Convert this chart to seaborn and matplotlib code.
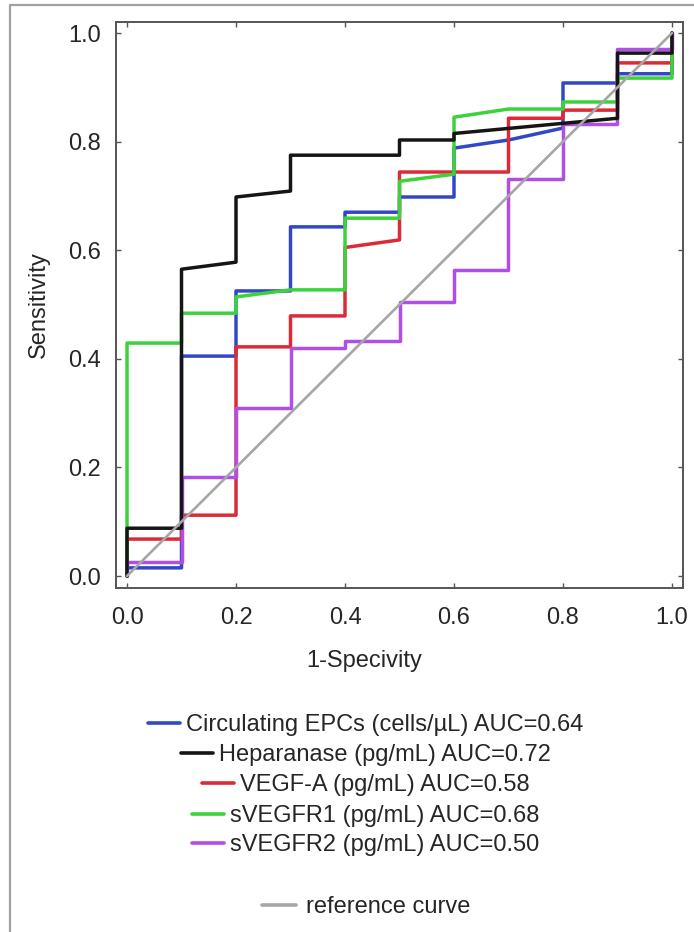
import matplotlib
matplotlib.use("Agg")
import matplotlib.pyplot as plt
from matplotlib.lines import Line2D
import seaborn as sns

# ROC vertices (1-specificity, sensitivity)
epc_x = [0, 0, 0.1, 0.1, 0.2, 0.2, 0.3, 0.3, 0.4, 0.4, 0.5, 0.5, 0.6, 0.6, 0.7, 0.8, 0.8, 0.9, 0.9, 1.0, 1.0]
epc_y = [0, 0.015, 0.015, 0.405, 0.405, 0.525, 0.525, 0.643, 0.643, 0.670, 0.670, 0.698, 0.698, 0.788, 0.803,
         0.825, 0.908, 0.908, 0.925, 0.925, 1.0]

hep_x = [0, 0, 0.1, 0.1, 0.2, 0.2, 0.3, 0.3, 0.5, 0.5, 0.6, 0.6, 0.9, 0.9, 1.0, 1.0]
hep_y = [0, 0.088, 0.088, 0.565, 0.578, 0.698, 0.709, 0.775, 0.775, 0.803, 0.803, 0.815, 0.843, 0.963, 0.963, 1.0]

vegfa_x = [0, 0, 0.1, 0.1, 0.2, 0.2, 0.3, 0.3, 0.4, 0.4, 0.5, 0.5, 0.7, 0.7, 0.8, 0.8, 0.9, 0.9, 1.0, 1.0]
vegfa_y = [0, 0.068, 0.068, 0.112, 0.112, 0.422, 0.422, 0.479, 0.479, 0.605, 0.619, 0.744, 0.744, 0.843, 0.843,
           0.858, 0.858, 0.945, 0.945, 1.0]

r1_x = [0, 0, 0.1, 0.1, 0.2, 0.2, 0.3, 0.4, 0.4, 0.5, 0.5, 0.6, 0.6, 0.7, 0.8, 0.8, 0.9, 0.9, 1.0, 1.0]
r1_y = [0, 0.429, 0.429, 0.484, 0.484, 0.514, 0.527, 0.527, 0.659, 0.659, 0.727, 0.740, 0.845, 0.860, 0.860,
        0.873, 0.873, 0.917, 0.917, 1.0]

r2_x = [0, 0, 0.1, 0.1, 0.2, 0.2, 0.3, 0.3, 0.4, 0.4, 0.5, 0.5, 0.6, 0.6, 0.7, 0.7, 0.8, 0.8, 0.9, 0.9, 1.0, 1.0]
r2_y = [0, 0.026, 0.026, 0.182, 0.182, 0.309, 0.309, 0.420, 0.420, 0.433, 0.433, 0.505, 0.505, 0.563, 0.563,
        0.731, 0.731, 0.832, 0.832, 0.970, 0.970, 1.0]

ref_x = [0, 1]
ref_y = [0, 1]

labels = [
    "Circulating EPCs (cells/\u00b5L) AUC=0.64",
    "Heparanase (pg/mL) AUC=0.72",
    "VEGF-A (pg/mL) AUC=0.58",
    "sVEGFR1 (pg/mL) AUC=0.68",
    "sVEGFR2 (pg/mL) AUC=0.50",
]
ref_label = "reference curve"
colors = ["#3048c8", "#151515", "#dc2a36", "#3cd23c", "#b04ee8"]
ref_color = "#a6a6a6"

curves = [(epc_x, epc_y), (hep_x, hep_y), (vegfa_x, vegfa_y), (r1_x, r1_y), (r2_x, r2_y)]

sns.set_style("white")
plt.rcParams["font.family"] = ["Liberation Sans", "DejaVu Sans"]
text_color = "#262626"
fs = 17

fig = plt.figure(figsize=(6.94, 9.32), dpi=100)
ax = fig.add_axes([116 / 694, 1 - 588 / 932, 567 / 694, 566 / 932])

draw_order = [0, 2, 3, 4, 1]
for i in draw_order:
    cx, cy = curves[i]
    sns.lineplot(x=cx, y=cy, sort=False, estimator=None, color=colors[i], linewidth=2.5, ax=ax, zorder=3)
sns.lineplot(x=ref_x, y=ref_y, sort=False, estimator=None, color=ref_color, linewidth=1.9, ax=ax, zorder=4)

ax.set_xlim(-0.0202, 1.0202)
ax.set_ylim(-0.0221, 1.0203)
ticks = [0.0, 0.2, 0.4, 0.6, 0.8, 1.0]
ax.set_xticks(ticks)
ax.set_yticks(ticks)
ax.set_xticklabels([f"{t:.1f}" for t in ticks])
ax.set_yticklabels([f"{t:.1f}" for t in ticks])
ax.tick_params(axis="both", direction="in", length=3.5, width=1.0, color="#555555",
               labelsize=fs, labelcolor=text_color, top=True, right=True, left=True, bottom=True)
ax.tick_params(axis="x", pad=14)
ax.tick_params(axis="y", pad=11)
for s in ax.spines.values():
    s.set_color("#555555")
    s.set_linewidth(1.4)

ax.set_xlabel("1-Specivity", fontsize=fs, color=text_color)
ax.set_ylabel("Sensitivity", fontsize=fs, color=text_color)
ax.xaxis.set_label_coords((364 - 116) / 567, (588 - 650) / 566)
ax.yaxis.set_label_coords((50 - 116) / 567, 0.5)

# legend rows, each centred on its own like the reference
row_y = [725, 755, 785, 816, 845]
for lab, col, py in zip(labels, colors, row_y):
    h = Line2D([], [], color=col, linewidth=2.6)
    fig.legend([h], [lab], loc="center", bbox_to_anchor=(366 / 694, 1 - py / 932), frameon=False,
               fontsize=fs, handlelength=1.35, handletextpad=0.25, labelcolor=text_color,
               borderpad=0, borderaxespad=0)
h = Line2D([], [], color=ref_color, linewidth=2.6)
fig.legend([h], [ref_label], loc="center", bbox_to_anchor=(366 / 694, 1 - 907 / 932), frameon=False,
           fontsize=fs, handlelength=1.45, handletextpad=0.42, labelcolor=text_color,
           borderpad=0, borderaxespad=0)

# outer frame of the original figure panel (left and top edges)
fig.add_artist(Line2D([10 / 694, 10 / 694, 1.0], [0.0, 1 - 5 / 932, 1 - 5 / 932],
                      transform=fig.transFigure, color="#a0a0a0", linewidth=1.6))

fig.savefig("out.png", dpi=100)
plt.close(fig)
